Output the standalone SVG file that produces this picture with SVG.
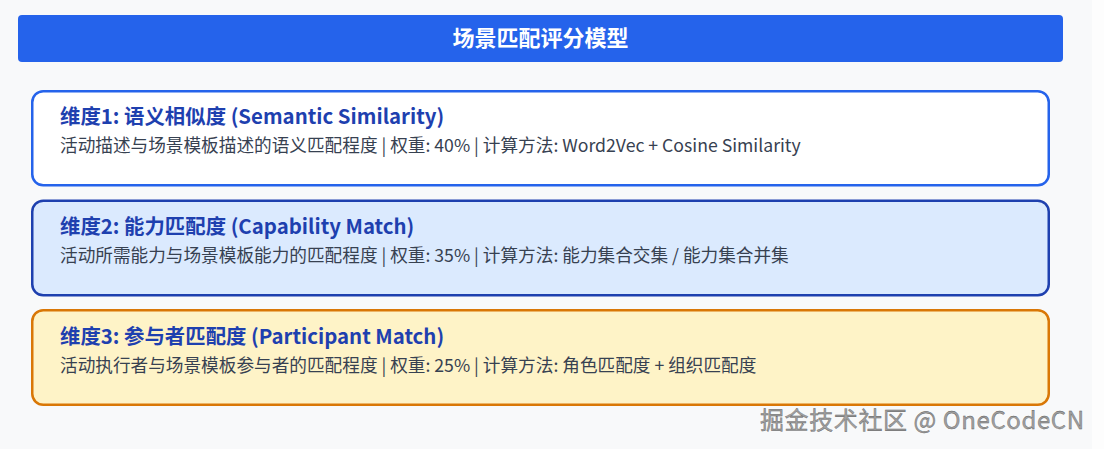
<svg xmlns="http://www.w3.org/2000/svg" width="1104" height="449" viewBox="0 0 1104 449">
<style>
.bg{fill:#f8f9fa}
.title{font-family:"Noto Sans CJK SC","Noto Sans",sans-serif;font-weight:700;font-size:22px;fill:#ffffff}
.h{font-family:"Noto Sans CJK SC","Noto Sans",sans-serif;font-weight:700;font-size:20.4px;fill:#1e40af}
.d{font-family:"Noto Sans CJK SC","Noto Sans",sans-serif;font-weight:400;font-size:17.65px;fill:#374151}
.box{stroke-width:2.5}
.wm{font-family:"Noto Sans CJK SC","Noto Sans",sans-serif;font-size:24px;letter-spacing:0.6px;fill:#a0a0a0;stroke:#5a5a5a;stroke-width:0.35}
</style>
<rect x="0" y="0" width="1104" height="449" fill="#fdfdfd"/>
<rect class="bg" x="0" y="0" width="1092" height="449"/>
<g id="header">
<rect x="18" y="15" width="1045" height="47" rx="4" fill="#2563eb"/>
<text class="title" x="540.5" y="46" text-anchor="middle">场景匹配评分模型</text>
</g>
<g id="dim1">
<rect class="box" x="32.25" y="91.25" width="1016.5" height="94" rx="11" fill="#ffffff" stroke="#2563eb"/>
<text class="h" x="60" y="124">维度1: 语义相似度 (Semantic Similarity)</text>
<text class="d" x="60" y="152">活动描述与场景模板描述的语义匹配程度 | 权重: 40% | 计算方法: Word2Vec + Cosine Similarity</text>
</g>
<g id="dim2">
<rect class="box" x="32.25" y="200.75" width="1016.5" height="94.5" rx="11" fill="#dbeafe" stroke="#1e40af"/>
<text class="h" x="60" y="233.5">维度2: 能力匹配度 (Capability Match)</text>
<text class="d" x="60" y="261.5">活动所需能力与场景模板能力的匹配程度 | 权重: 35% | 计算方法: 能力集合交集 / 能力集合并集</text>
</g>
<g id="dim3">
<rect class="box" x="32.25" y="310.25" width="1016.5" height="94.5" rx="11" fill="#fef3c7" stroke="#d97706"/>
<text class="h" x="60" y="343.5">维度3: 参与者匹配度 (Participant Match)</text>
<text class="d" x="60" y="371.5">活动执行者与场景模板参与者的匹配程度 | 权重: 25% | 计算方法: 角色匹配度 + 组织匹配度</text>
</g>
<g id="connectors"></g>
<text class="wm" x="760" y="429">掘金技术社区 @ OneCodeCN</text>
</svg>
